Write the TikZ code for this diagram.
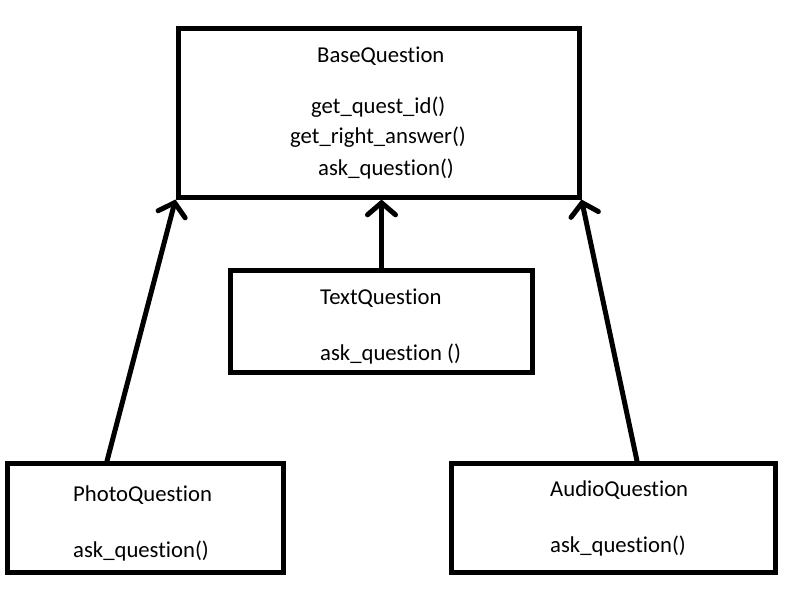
\documentclass[tikz,border=0pt]{standalone}
\usepackage{fontspec}
\setmainfont{Carlito}[Ligatures=NoCommon]
\usetikzlibrary{arrows.meta,positioning}

\tikzset{
  classbox/.style={draw, line width=5pt, inner sep=0pt},
  lbl/.style={anchor=base west, inner sep=0pt, font=\fontsize{22.7}{27}\selectfont},
  inherit/.style={line width=5pt, line cap=round, -{Straight Barb[length=12pt,width=28pt,line cap=round]}}
}

\begin{document}
\begin{tikzpicture}[x=1pt,y=-1pt]
  \useasboundingbox (0,0) rectangle (795,608);

  % Base class
  \node[classbox, minimum width=401pt, minimum height=169pt] (base) at (378.5,112.5) {};
  \node[lbl] (basename) at (317,62) {BaseQuestion};
  \node[lbl] (baseid) at (311,113) {get\_quest\_id()};
  \node[lbl] (baseright) at (290,143) {get\_right\_answer()};
  \node[lbl] (baseask) at (318,175) {ask\_question()};

  % Text question
  \node[classbox, minimum width=302pt, minimum height=102pt] (text) at (381.5,321.5) {};
  \node[lbl] (textname) at (320,304) {TextQuestion};
  \node[lbl] (textask) at (320,360) {ask\_question ()};

  % Photo question
  \node[classbox, minimum width=276pt, minimum height=109pt] (photo) at (145.5,518) {};
  \node[lbl] (photoname) at (73,501) {PhotoQuestion};
  \node[lbl] (photoask) at (73,557) {ask\_question()};

  % Audio question
  \node[classbox, minimum width=324pt, minimum height=109pt] (audio) at (613.5,518) {};
  \node[lbl] (audioname) at (550,496) {AudioQuestion};
  \node[lbl] (audioask) at (550,552) {ask\_question()};

  % Inheritance
  \coordinate (phototop) at (107,461);
  \coordinate (audiotop) at (637,461);
  \draw[inherit] (phototop) -- (base.south west);
  \draw[inherit] (text.north) -- (base.south -| text.north);
  \draw[inherit] (audiotop) -- (base.south east);
\end{tikzpicture}
\end{document}
